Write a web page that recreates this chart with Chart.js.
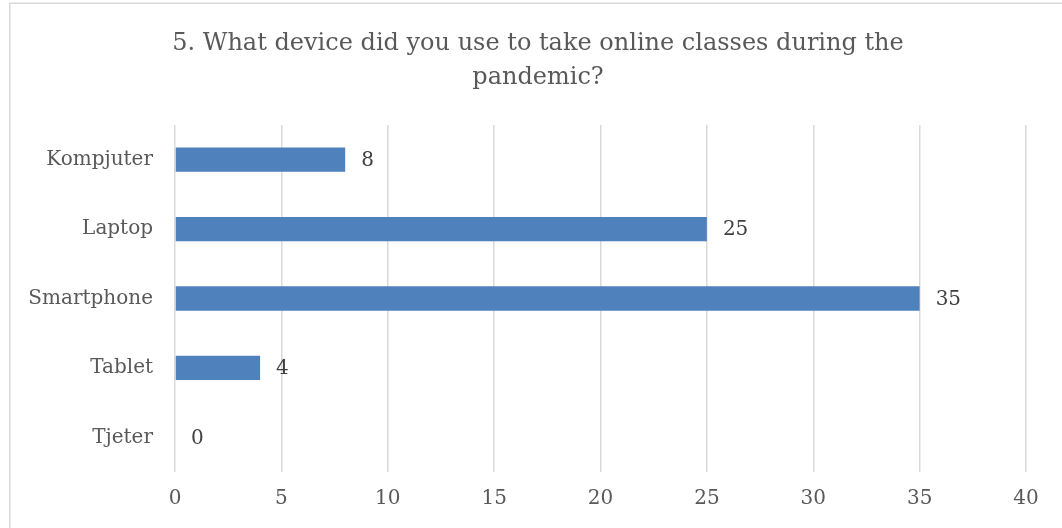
<!DOCTYPE html>
<html>
<head>
<meta charset="utf-8">
<script src="https://cdn.jsdelivr.net/npm/chart.js@4"></script>
<style>
  html, body { margin: 0; padding: 0; background: #fff; }
  #wrap { position: relative; width: 1062px; height: 528px; overflow: hidden; }
</style>
</head>
<body>
<div id="wrap"><canvas id="myChart" width="1062" height="528"></canvas></div>
<script>
// Survey answers, question 5
const titleLines = ['5. What device did you use to take online classes during the', 'pandemic?'];
const devices = ['Kompjuter', 'Laptop', 'Smartphone', 'Tablet', 'Tjeter'];
const answers = [8, 25, 35, 4, 0];
const xMax = 40;
const xStep = 5;

const serif = "'DejaVu Serif', serif";

// light frame around the chart (only left and top edges are in view)
const framePlugin = {
  id: 'frame',
  beforeDraw(chart) {
    const ctx = chart.ctx;
    ctx.save();
    ctx.fillStyle = '#fff';
    ctx.fillRect(0, 0, chart.width, chart.height);
    ctx.strokeStyle = '#d9d9d9';
    ctx.lineWidth = 1.5;
    ctx.beginPath();
    ctx.moveTo(9.75, chart.height);
    ctx.lineTo(9.75, 3.25);
    ctx.lineTo(chart.width, 3.25);
    ctx.stroke();
    ctx.restore();
  }
};

// two-line heading, centred on the frame rather than on the plot
const headingPlugin = {
  id: 'heading',
  afterDraw(chart) {
    const ctx = chart.ctx;
    ctx.save();
    ctx.font = '24px ' + serif;
    ctx.fillStyle = '#595959';
    ctx.textAlign = 'center';
    ctx.textBaseline = 'middle';
    titleLines.forEach((line, i) => {
      ctx.fillText(line, 538, 44 + i * 34);
    });
    ctx.restore();
  }
};

// value printed just past the end of each bar
const valueLabels = {
  id: 'valueLabels',
  afterDatasetsDraw(chart) {
    const ctx = chart.ctx;
    const meta = chart.getDatasetMeta(0);
    ctx.save();
    ctx.font = '20px ' + serif;
    ctx.fillStyle = '#404040';
    ctx.textAlign = 'left';
    ctx.textBaseline = 'middle';
    meta.data.forEach((bar, i) => {
      ctx.fillText(String(answers[i]), bar.x + 16, bar.y + 1);
    });
    ctx.restore();
  }
};

const chart = new Chart(document.getElementById('myChart'), {
  type: 'bar',
  data: {
    labels: devices,
    datasets: [{
      data: answers,
      backgroundColor: '#4f81bd',
      borderWidth: 0,
      barPercentage: 0.7,
      categoryPercentage: 0.5
    }]
  },
  options: {
    indexAxis: 'y',
    responsive: false,
    animation: false,
    layout: { padding: { left: 0, right: 36, top: 125, bottom: 0 } },
    plugins: {
      legend: { display: false },
      tooltip: { enabled: false },
      title: { display: false }
    },
    scales: {
      x: {
        min: 0,
        max: xMax,
        ticks: {
          stepSize: xStep,
          color: '#595959',
          font: { family: serif, size: 20 },
          padding: 15
        },
        grid: { color: '#d9d9d9', lineWidth: 1.5, drawTicks: false },
        border: { display: false },
        afterFit(scale) { scale.height = 56; }
      },
      y: {
        ticks: {
          color: '#595959',
          font: { family: serif, size: 20 },
          padding: 22
        },
        grid: { display: false, drawTicks: false },
        border: { display: false },
        afterFit(scale) { scale.width = 175; }
      }
    }
  },
  plugins: [framePlugin, headingPlugin, valueLabels]
});
</script>
</body>
</html>
